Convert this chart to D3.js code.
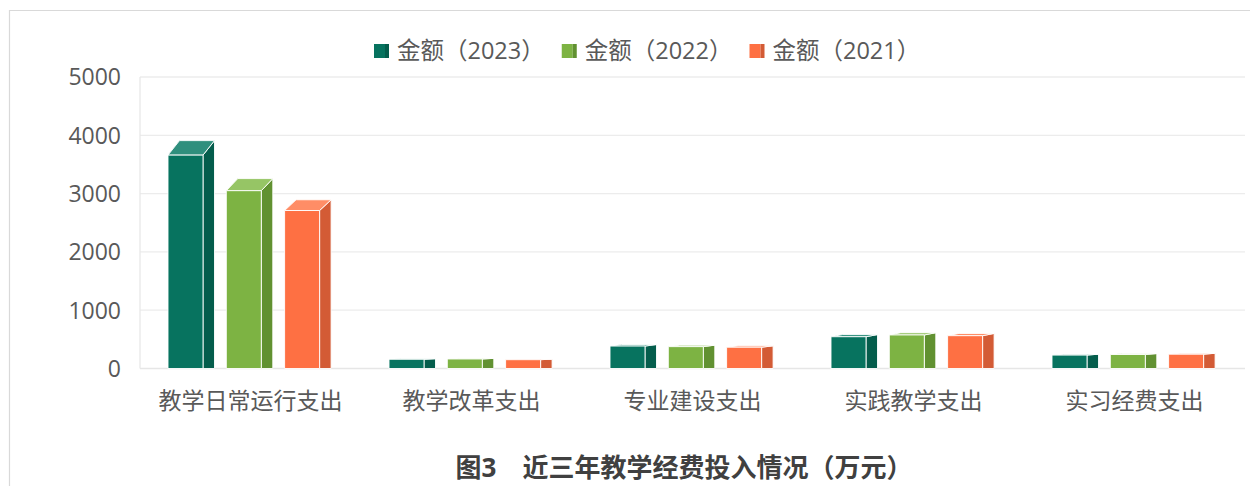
<!DOCTYPE html>
<html><head><meta charset="utf-8">
<script src="https://cdn.jsdelivr.net/npm/d3@7"></script>
<style>
html,body{margin:0;padding:0;background:#fff;overflow:hidden;}
svg{display:block;}
text{font-family:"Open Sans","Noto Sans CJK SC",sans-serif;}
</style></head>
<body>
<svg id="c" width="1250" height="486"></svg>
<script>
const categories = ["教学日常运行支出","教学改革支出","专业建设支出","实践教学支出","实习经费支出"];
const seriesNames = ["金额（2023）","金额（2022）","金额（2021）"];
const values2023 = [3660, 158, 385, 545, 230];
const values2022 = [3050, 163, 375, 575, 240];
const values2021 = [2710, 151, 365, 563, 245];
const yTicks = [0, 1000, 2000, 3000, 4000, 5000];
const titleText = "图3　近三年教学经费投入情况（万元）";

const series = [values2023, values2022, values2021];
const colors = [
  {front:"#07735f", side:"#045d4c", top:"#2f8f7d"},
  {front:"#7db343", side:"#619131", top:"#96c565"},
  {front:"#fe7043", side:"#d35b35", top:"#ff8d66"}
];

const svg = d3.select("#c");

// outer frame
svg.append("path").attr("d","M9.5,486 V10.5 H1250").attr("fill","none").attr("stroke","#d9d9d9").attr("stroke-width",1.2);

const plotL = 140, plotR = 1245;
const y = d3.scaleLinear().domain([0,5000]).range([368.5, 77]);
const x = d3.scaleBand().domain(categories).range([plotL, plotR]).paddingInner(0).paddingOuter(0);
const xs = d3.scaleBand().domain([0,1,2]).range([28, 28+58.3*2+35]).paddingInner(23.3/58.3).paddingOuter(0);

// gridlines (back wall)
svg.append("g").selectAll("line").data(yTicks.filter(d=>d>0)).join("line")
  .attr("x1",plotL).attr("x2",plotR).attr("y1",d=>y(d)).attr("y2",d=>y(d))
  .attr("stroke","#ececec").attr("stroke-width",1.3);
// wall left edge
svg.append("line").attr("x1",plotL).attr("x2",plotL).attr("y1",y(5000)).attr("y2",y(0)).attr("stroke","#e8e8e8").attr("stroke-width",1.3);
// floor
svg.append("line").attr("x1",plotL).attr("x2",plotR).attr("y1",y(0)).attr("y2",y(0)).attr("stroke","#e6e6e6").attr("stroke-width",1.5);

// y axis labels
const yAxis = d3.axisLeft(y).tickValues(yTicks).tickSize(0).tickPadding(0).tickFormat(d3.format("d"));
const ya = svg.append("g").attr("transform","translate(121,0)").call(yAxis);
ya.select(".domain").remove();
ya.selectAll("text").attr("font-size",23).attr("fill","#595959").attr("font-family",'"Open Sans",sans-serif').attr("dy","0.34em");

// x labels
const xAxis = d3.axisBottom(x).tickSize(0).tickPadding(0);
const xa = svg.append("g").attr("transform","translate(0,401)").call(xAxis);
xa.select(".domain").remove();
xa.selectAll("text").attr("font-size",23).attr("fill","#595959").attr("font-family",'"Noto Sans CJK SC",sans-serif').attr("dy","0.35em");

// 3D bars
const dx = 11.5, k = 0.068;
const barsG = svg.append("g");
series.forEach((vals, si) => {
  const c = colors[si];
  vals.forEach((v, ci) => {
    const x0 = x(categories[ci]) + xs(si);
    const w = xs.bandwidth();
    const yb = y(0), yt = y(v);
    const h = yb - yt;
    const dy = k*h;
    const g = barsG.append("g").attr("stroke","#ffffff").attr("stroke-width",0.9).attr("stroke-linejoin","round");
    g.append("path").attr("fill",c.side)
      .attr("d",`M${x0+w},${yb} L${x0+w+dx},${yb} L${x0+w+dx},${yt-dy} L${x0+w},${yt} Z`);
    g.append("path").attr("fill",c.top)
      .attr("d",`M${x0},${yt} L${x0+w},${yt} L${x0+w+dx},${yt-dy} L${x0+dx},${yt-dy} Z`);
    g.append("rect").attr("x",x0).attr("y",yt).attr("width",w).attr("height",h).attr("fill",c.front);
  });
});

// legend
const lg = svg.append("g");
const items = [];
seriesNames.forEach((n, i) => {
  const it = lg.append("g");
  it.append("rect").attr("x",0).attr("y",44).attr("width",11).attr("height",14).attr("fill",colors[i].front);
  it.append("rect").attr("x",11).attr("y",44).attr("width",4).attr("height",14).attr("fill",colors[i].side);
  const t = it.append("text").attr("x",23).attr("y",51).attr("dy","0.36em").attr("font-size",23.5).attr("fill","#595959")
    .attr("font-family",'"Open Sans","Noto Sans CJK SC",sans-serif').text(n);
  const tw = t.node().getComputedTextLength();
  items.push({g:it, w:23+tw});
});
let total = 0;
const gap = 17;
items.forEach((d,i)=>{ total += d.w + (i<items.length-1?gap:0); });
let start = 374;
items.forEach(d=>{ d.g.attr("transform",`translate(${start},0)`); start += d.w + gap; });

// title
svg.append("text").attr("x",684).attr("y",477).attr("text-anchor","middle")
  .attr("font-size",26).attr("font-weight","bold").attr("fill","#404040")
  .attr("font-family",'"Noto Sans CJK SC",sans-serif').text(titleText);
</script>
</body></html>
